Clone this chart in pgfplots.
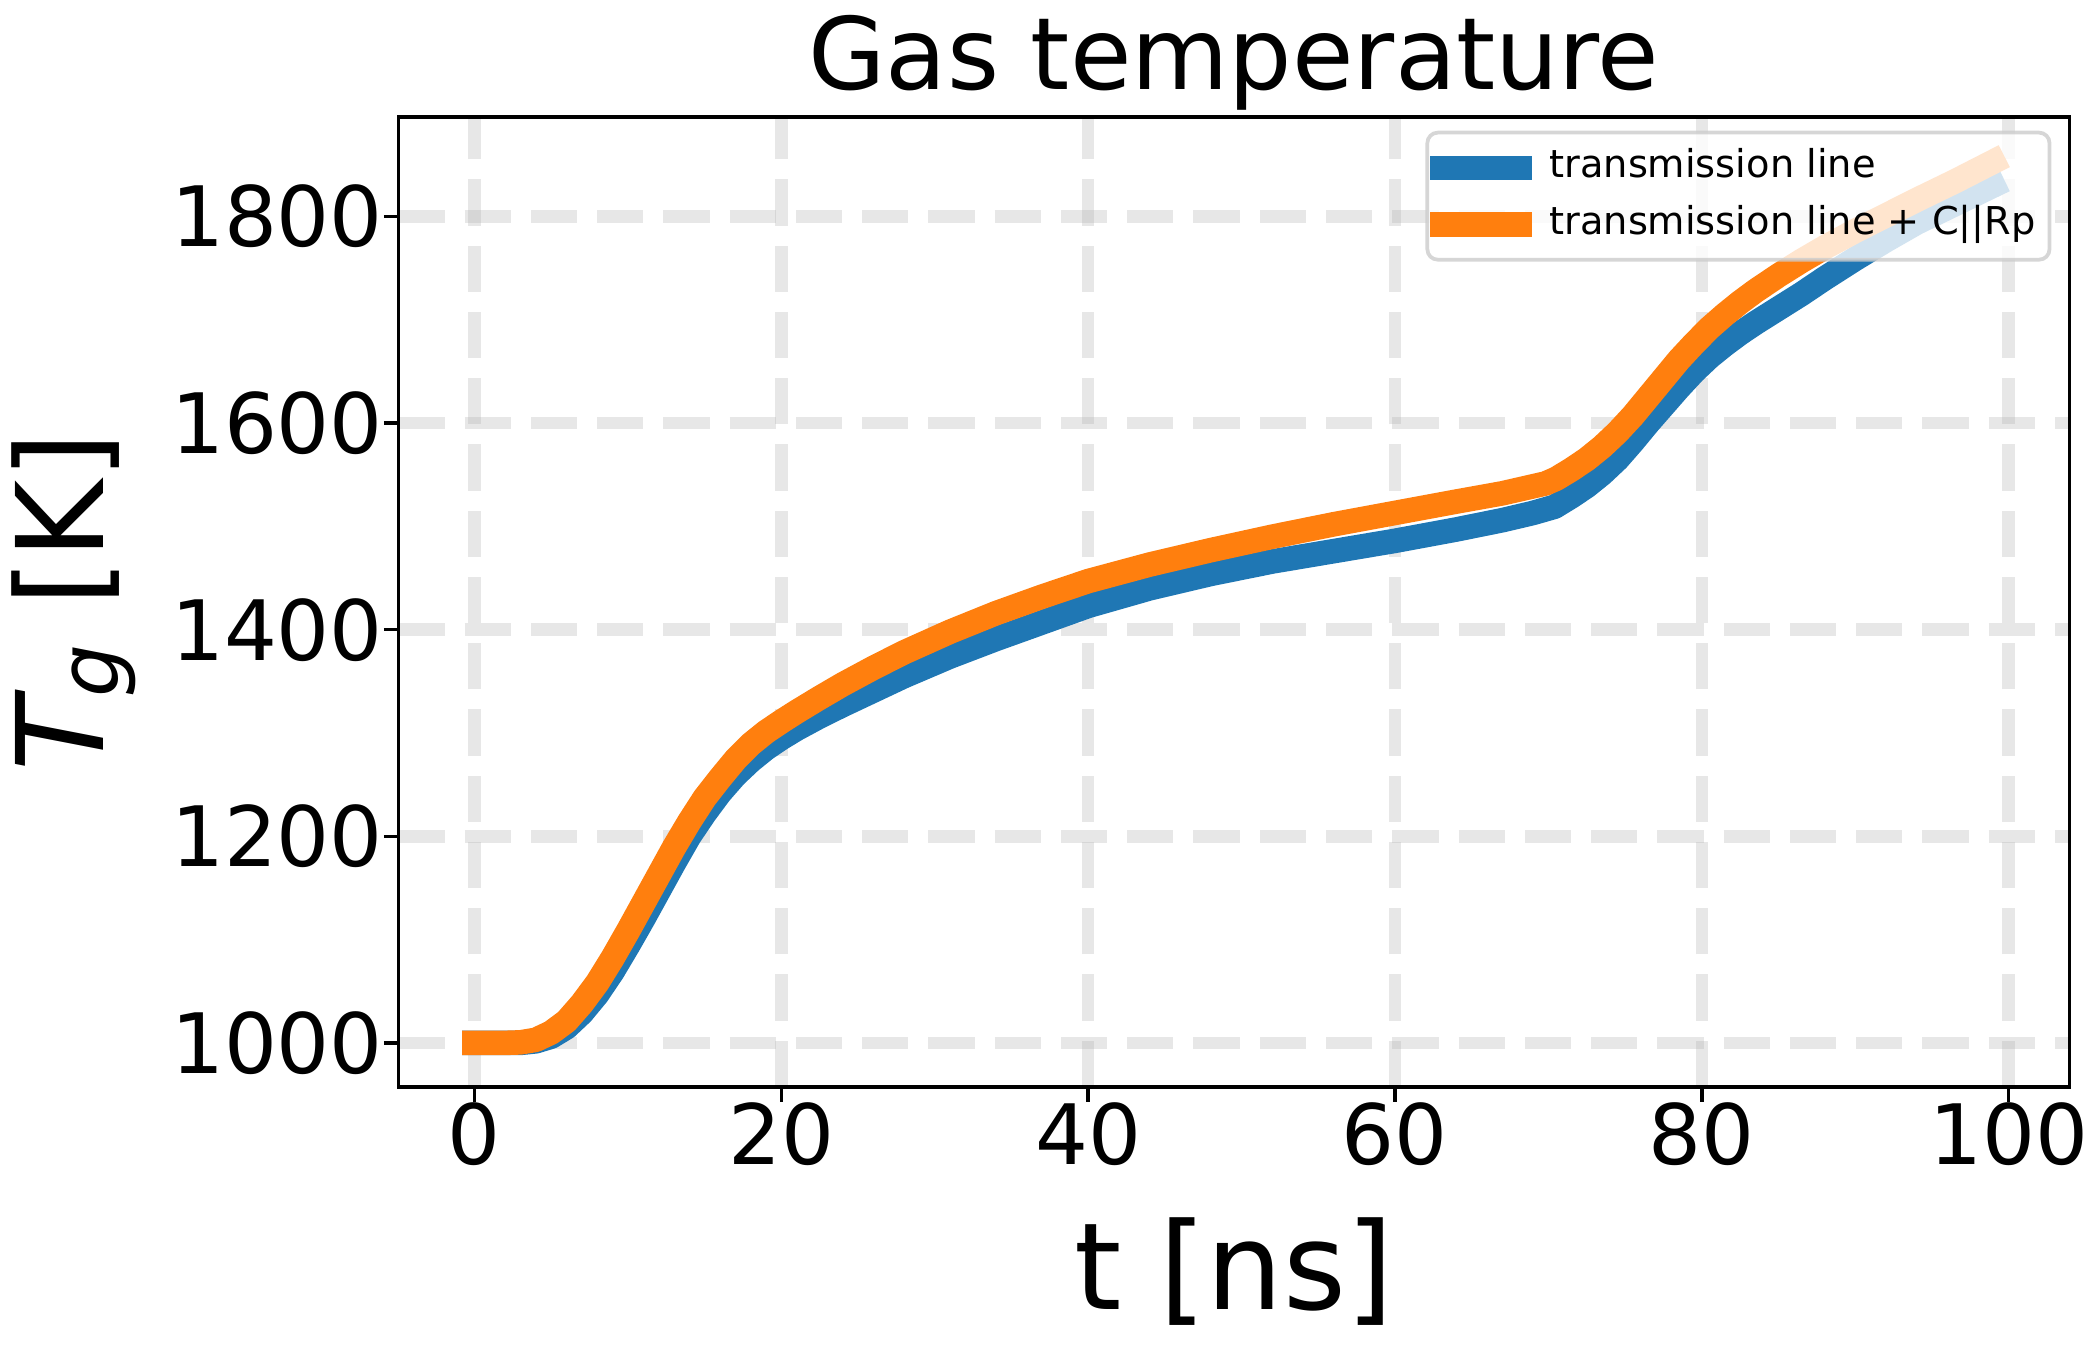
\documentclass[border=0pt]{standalone}
\usepackage{fontspec}
\setmainfont{DejaVu Sans}
\usepackage{pgfplots}
\pgfplotsset{compat=1.18}

\definecolor{tabblue}{HTML}{1F77B4}
\definecolor{taborange}{HTML}{FF7F0E}
\definecolor{gridcol}{HTML}{B0B0B0}

\begin{document}
\begin{tikzpicture}
\begin{axis}[
    at={(0,0)}, anchor=south west,
    scale only axis, width=400.99pt, height=232.8pt,
    xmin=-4.95, xmax=103.95, ymin=957.3, ymax=1896.3,
    xtick={0,20,...,100}, ytick={1000,1200,...,1800},
    tick pos=left, tick align=outside,
    major tick length=3.5pt,
    every tick/.style={black, line width=0.8pt},
    axis line style={black, line width=0.8pt},
    grid=major,
    major grid style={draw=gridcol, draw opacity=0.3, line width=3pt, dash pattern=on 11.1pt off 4.8pt},
    /pgf/number format/assume math mode=true,
    /pgf/number format/1000 sep={},
    tick label style={font=\fontsize{20}{24}\selectfont},
    xticklabel style={inner sep=0pt},
    yticklabel style={inner sep=0pt},
    every axis title/.style={at={(axis description cs:0.5,1)}, anchor=base, yshift=6.7pt, font=\fontsize{24}{28}\selectfont},
    every axis x label/.style={at={(axis description cs:0.5,0)}, anchor=base, yshift=-53.5pt, font=\fontsize{29}{34}\selectfont},
    every axis y label/.style={at={(axis description cs:0,0.5)}, xshift=-70.8pt, rotate=90, anchor=base, font=\fontsize{29}{34}\selectfont},
    title={Gas temperature},
    xlabel={t [ns]},
    ylabel={{\itshape T}\raisebox{-3.7pt}{\fontsize{20}{24}\selectfont\itshape g} [K]},
    legend style={
        at={(1,1)}, anchor=north east, xshift=-4.3pt, yshift=-3.3pt,
        draw=black!20, line width=0.9pt, rounded corners=2.5pt,
        fill=white, fill opacity=0.8, draw opacity=0.8, text opacity=1,
        font=\fontsize{9.2}{11}\selectfont,
        inner xsep=0.7pt, inner ysep=3.9pt, row sep=4.5pt, column sep=4.2pt,
        nodes={inner sep=0pt, text height=6.9pt, text depth=2.2pt},
    },
    legend cell align=left,
    legend image code/.code={\draw[#1, line cap=rect, draw opacity=1] (0pt,0pt) -- (18.5pt,0pt);},
]
\addplot[tabblue, line width=5.9pt, line cap=rect, line join=round] coordinates {
(0,1000) (3,1000) (4,1001.5) (5,1006) (6,1015) (7,1029) (8,1047) (9,1069) (10,1094)
(11,1120) (12,1147) (13,1174) (14,1200) (15,1222) (16,1242) (17,1259) (18,1273)
(19,1285) (20,1295) (21,1304) (22.5,1316) (24,1327) (26,1341) (28,1355) (31,1374)
(34,1391) (37,1407) (40,1423) (44,1440) (48,1454) (52,1466) (56,1476) (60,1486)
(64,1497) (67,1506) (69,1513) (70.4,1519) (71.5,1529) (72.5,1539) (73.5,1551)
(74.5,1565) (75.5,1582) (76.5,1600) (77.5,1617) (78.5,1634) (79.5,1650) (80.5,1664)
(81.5,1676) (82.5,1687) (83.5,1697) (85,1711) (86.5,1725) (88,1740) (90,1759)
(92,1777) (94,1794) (96.5,1812) (99,1830)
};
\addlegendentry{transmission line}
\addplot[taborange, line width=5.9pt, line cap=rect, line join=round] coordinates {
(0,1000) (2,1000) (3,1000.5) (4,1003) (5,1010) (6,1021) (7,1038) (8,1058) (9,1082)
(10,1108) (11,1135) (12,1162) (13,1189) (14,1214) (15,1237) (16,1256) (17,1274)
(18,1289) (19,1301) (20,1311) (21,1320.5) (22.5,1334) (24,1347) (26,1363) (28,1378)
(31,1398) (34,1416) (37,1432) (40,1447) (44,1463) (48,1477) (52,1490) (56,1502)
(60,1513) (64,1524) (67,1532) (69.8,1541.5) (70.5,1546) (71.5,1555) (72.5,1565)
(73.5,1577) (74.5,1591) (75.5,1607) (76.5,1625) (77.5,1643) (78.5,1661) (79.5,1677)
(80.5,1692) (81.5,1705) (82.5,1717) (83.5,1728) (85,1743) (86.5,1757) (88,1770)
(90,1786) (92,1801) (94,1816) (96.5,1834) (99,1853)
};
\addlegendentry{transmission line + C||Rp\hspace*{2.6pt}}
\end{axis}
\pgfresetboundingbox
\path[use as bounding box] (-95.64pt,-63.12pt) rectangle (408.36pt,260.88pt);
\end{tikzpicture}
\end{document}
